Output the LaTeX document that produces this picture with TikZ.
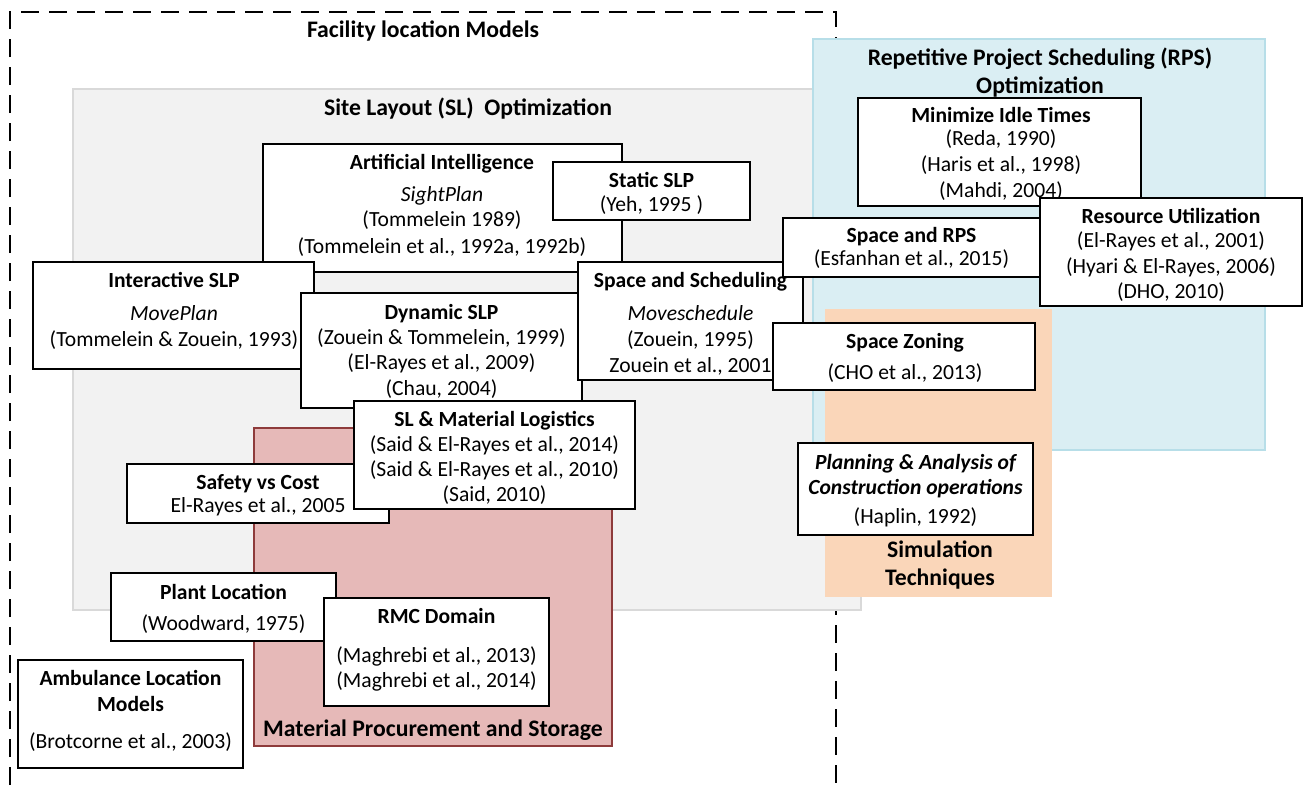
\documentclass[tikz,border=0pt]{standalone}
\usepackage{fontspec}
\setmainfont{Carlito}
\usetikzlibrary{fit}

\definecolor{slfill}{HTML}{F2F2F2}
\definecolor{slline}{HTML}{D9D9D9}
\definecolor{rpsfill}{HTML}{DAEEF3}
\definecolor{rpsline}{HTML}{B7DEE8}
\definecolor{simfill}{HTML}{FAD6B9}
\definecolor{mpsfill}{HTML}{E6B9B8}
\definecolor{mpsline}{HTML}{8E3B3B}

% one text line: style, name, x, y of the line's visual centre, text
\newcommand\boxline[5]{\node[#1] (#2) at (#3,#4+7) {#5};}

\begin{document}
\begin{tikzpicture}[x=1pt,y=-1pt,
  frame/.style={draw=black, line width=1.4pt, dash pattern=on 18pt off 10pt},
  area/.style={inner sep=0pt, line width=1.5pt},
  box/.style={draw=black, line width=1.5pt, fill=white, inner sep=0pt},
  tx/.style={anchor=base, inner sep=0pt, font=\fontsize{21.6}{26}\selectfont},
  bt/.style={tx, font=\fontsize{21.6}{26}\selectfont\bfseries},
  it/.style={tx, font=\fontsize{21.6}{26}\selectfont\itshape},
  bit/.style={tx, font=\fontsize{21.6}{26}\selectfont\bfseries\itshape},
  head/.style={anchor=base, inner sep=0pt, font=\fontsize{23.7}{28}\selectfont\bfseries}]

\useasboundingbox (0,0) rectangle (1306,785);

% outer dashed frame: facility location models
\draw[frame] (10,785) -- (10,12) -- (836,12) -- (836,785);
\node[head] (fl) at (423,30+7) {Facility location Models};

% coloured areas
\node[area, fill=slfill, draw=slline, fit={(73,89) (861,610)}] (sl) {};
\node[area, fill=rpsfill, draw=rpsline, fit={(813,39) (1265,450)}] (rps) {};
\node[area, fill=simfill, fit={(825,309) (1052,597)}] (sim) {};
\node[area, fill=mpsfill, draw=mpsline, line width=1.2pt, fit={(254,428) (612,746)}] (mps) {};

\node[head] (slt) at (468,108+7) {Site Layout (SL)\ \ Optimization};
\node[head] (rpst1) at (1040,58+7) {Repetitive Project Scheduling (RPS)};
\node[head] (rpst2) at (1040,86+7) {Optimization};
\node[head] (simt1) at (940,550+7) {Simulation};
\node[head] (simt2) at (940,578+7) {Techniques};
\node[head] (mpst) at (433,729+7) {Material Procurement and Storage};

% Artificial Intelligence
\node[box, fit={(263,144) (622,272)}] (ai) {};
\boxline{bt}{ai1}{442}{162}{Artificial Intelligence}
\boxline{it}{ai2}{442}{194}{SightPlan}
\boxline{tx}{ai3}{442}{219}{(Tommelein 1989)}
\boxline{tx}{ai4}{442}{246}{(Tommelein et al., 1992a, 1992b)}

% Static SLP
\node[box, fit={(553,162) (750,220)}] (st) {};
\boxline{bt}{st1}{651.5}{180}{Static SLP}
\boxline{tx}{st2}{651.5}{204}{(Yeh, 1995 )}

% Interactive SLP
\node[box, fit={(33,262) (314,369)}] (isl) {};
\boxline{bt}{isl1}{174}{280}{Interactive SLP}
\boxline{it}{isl2}{174}{313}{MovePlan}
\boxline{tx}{isl3}{174}{339}{(Tommelein \& Zouein, 1993)}

% Dynamic SLP
\node[box, fit={(301,293) (582,408)}] (dyn) {};
\boxline{bt}{dyn1}{441.5}{312}{Dynamic SLP}
\boxline{tx}{dyn2}{441.5}{337}{(Zouein \& Tommelein, 1999)}
\boxline{tx}{dyn3}{441.5}{362}{(El-Rayes et al., 2009)}
\boxline{tx}{dyn4}{441.5}{388}{(Chau, 2004)}

% Space and Scheduling
\node[box, fit={(578,262) (803,380)}] (ss) {};
\boxline{bt}{ss1}{690.5}{280}{Space and Scheduling}
\boxline{it}{ss2}{690.5}{313}{Moveschedule}
\boxline{tx}{ss3}{690.5}{339}{(Zouein, 1995)}
\boxline{tx}{ss4}{690.5}{365}{Zouein et al., 2001}

% Minimize Idle Times
\node[box, fit={(858,98) (1141,206)}] (mit) {};
\boxline{bt}{mit1}{1001}{115}{Minimize Idle Times}
\boxline{tx}{mit2}{1001}{138}{(Reda, 1990)}
\boxline{tx}{mit3}{1001}{164}{(Haris et al., 1998)}
\boxline{tx}{mit4}{1001}{190}{(Mahdi, 2004)}

% Space and RPS
\node[box, fit={(783,218) (1040,277)}] (srps) {};
\boxline{bt}{srps1}{911.5}{235}{Space and RPS}
\boxline{tx}{srps2}{911.5}{258}{(Esfanhan et al., 2015)}

% Resource Utilization
\node[box, fit={(1040,198) (1302,306)}] (ru) {};
\boxline{bt}{ru1}{1171}{216}{Resource Utilization}
\boxline{tx}{ru2}{1171}{240}{(El-Rayes et al., 2001)}
\boxline{tx}{ru3}{1171}{266}{(Hyari \& El-Rayes, 2006)}
\boxline{tx}{ru4}{1171}{291}{(DHO, 2010)}

% Space Zoning
\node[box, fit={(773,323) (1035,390)}] (sz) {};
\boxline{bt}{sz1}{905}{341}{Space Zoning}
\boxline{tx}{sz2}{905}{372}{(CHO et al., 2013)}

% Planning & Analysis of Construction operations
\node[box, fit={(798,443) (1033,535)}] (pac) {};
\boxline{bit}{pac1}{915.5}{462}{Planning \& Analysis of}
\boxline{bit}{pac2}{915.5}{487}{Construction operations}
\boxline{tx}{pac3}{915.5}{516}{(Haplin, 1992)}

% Safety vs Cost
\node[box, fit={(127,464) (389,523)}] (sc) {};
\boxline{bt}{sc1}{258}{482}{Safety vs Cost}
\boxline{tx}{sc2}{258}{505}{El-Rayes et al., 2005}

% SL & Material Logistics
\node[box, fit={(354,401) (635,509)}] (ml) {};
\boxline{bt}{ml1}{494.5}{419}{SL \& Material Logistics}
\boxline{tx}{ml2}{494.5}{444}{(Said \& El-Rayes et al., 2014)}
\boxline{tx}{ml3}{494.5}{469}{(Said \& El-Rayes et al., 2010)}
\boxline{tx}{ml4}{494.5}{494}{(Said, 2010)}

% Plant Location
\node[box, fit={(111,573) (336,641)}] (pl) {};
\boxline{bt}{pl1}{223.5}{592}{Plant Location}
\boxline{tx}{pl2}{223.5}{623}{(Woodward, 1975)}

% RMC Domain
\node[box, fit={(324,598) (549,706)}] (rmc) {};
\boxline{bt}{rmc1}{436.5}{616}{RMC Domain}
\boxline{tx}{rmc2}{436.5}{655}{(Maghrebi et al., 2013)}
\boxline{tx}{rmc3}{436.5}{680}{(Maghrebi et al., 2014)}

% Ambulance Location Models
\node[box, fit={(18,660) (243,768)}] (amb) {};
\boxline{bt}{amb1}{130.5}{678}{Ambulance Location}
\boxline{bt}{amb2}{130.5}{704}{Models}
\boxline{tx}{amb3}{130.5}{741}{(Brotcorne et al., 2003)}

\end{tikzpicture}
\end{document}
